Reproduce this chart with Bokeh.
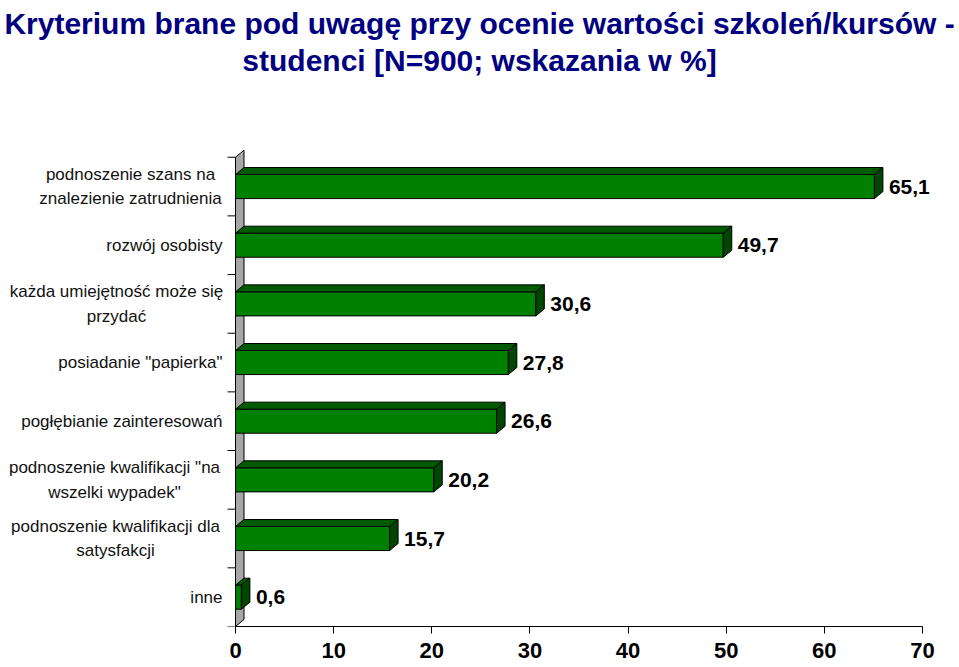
from bokeh.plotting import figure
from bokeh.models import Range1d, FixedTicker, Label, LabelSet, ColumnDataSource
from bokeh.core.properties import value
from bokeh.embed import file_html
from bokeh.resources import INLINE

# ---- data ----
categories = [
    "podnoszenie szans na\nznalezienie zatrudnienia",
    "rozwój osobisty",
    "każda umiejętność może się\nprzydać",
    "posiadanie \"papierka\"",
    "pogłębianie zainteresowań",
    "podnoszenie kwalifikacji \"na\nwszelki wypadek\"",
    "podnoszenie kwalifikacji dla\nsatysfakcji",
    "inne",
]
values = [65.1, 49.7, 30.6, 27.8, 26.6, 20.2, 15.7, 0.6]
x_ticks = [0, 10, 20, 30, 40, 50, 60, 70]
title_lines = [
    "Kryterium brane pod uwagę przy ocenie wartości szkoleń/kursów -",
    "studenci [N=900; wskazania w %]",
]

# ---- layout / style ----
W, H = 959, 667
BB = 41                          # space below the frame for the x axis
X0_PX = 235.0                    # pixel position of x = 0
AXIS_PX = 687.0                  # pixel length of the 0..70 axis
X_MAX = x_ticks[-1]
px_x = AXIS_PX / X_MAX
FH = H - BB
n = len(categories)
ppu_y = 58.66                    # pixel height of one category band
y_end = -0.5 + FH / ppu_y
DX_PX, DY_PX = 8.5, 7.0
dx = DX_PX / px_x
dy = DY_PX / ppu_y
half = 0.205
TICK_PX = 8

FRONT = "#008000"
TOP = "#005a00"
SIDE = "#004600"
WALL = "#a6a6a6"
FONT = "Liberation Sans"

cat_offsets = [-105, -13, -119, -13, -13, -121, -120, -13]
cat_align = ["center", "right", "center", "right", "right", "center", "center", "right"]

ys = [n - 1 - i for i in range(n)]
bounds = [k - 0.5 for k in range(n + 1)]
value_labels = [("%.1f" % v).replace(".", ",") for v in values]

p = figure(width=W, height=H,
           x_range=Range1d(-X0_PX / px_x, (W - X0_PX) / px_x),
           y_range=Range1d(-0.5, y_end),
           output_backend="svg", toolbar_location=None,
           min_border_left=0, min_border_right=0, min_border_top=0, min_border_bottom=BB)
p.title.visible = False
p.outline_line_color = None
p.grid.visible = False
p.yaxis.visible = False
p.background_fill_color = "white"
p.border_fill_color = "white"

# side wall (its front edge is the category axis line)
p.patch(x=[0, dx, dx, 0], y=[-0.5, -0.5 + dy, n - 0.5 + dy, n - 0.5],
        fill_color=WALL, line_color="black", line_width=1)
# category boundary tick marks
p.segment(x0=[0] * len(bounds), x1=[-TICK_PX / px_x] * len(bounds), y0=bounds, y1=bounds,
          line_color="black", line_width=1)

src = ColumnDataSource(dict(
    y=ys, v=values, lab=value_labels,
    bottom=[y - half for y in ys], top=[y + half for y in ys],
    xs_top=[[0, v, v + dx, dx] for v in values],
    ys_top=[[y + half, y + half, y + half + dy, y + half + dy] for y in ys],
    xs_side=[[v, v + dx, v + dx, v] for v in values],
    ys_side=[[y - half, y - half + dy, y + half + dy, y + half] for y in ys],
))

p.quad(left=0, right="v", bottom="bottom", top="top", source=src,
       fill_color=FRONT, line_color="black", line_width=1)
p.patches(xs="xs_top", ys="ys_top", source=src, fill_color=TOP, line_color="black", line_width=1)
p.patches(xs="xs_side", ys="ys_side", source=src, fill_color=SIDE, line_color="black", line_width=1)

p.add_layout(LabelSet(x="v", y="y", text="lab", source=src, x_offset=DX_PX + 6,
                      text_baseline="middle", text_align="left",
                      text_font=value(FONT), text_font_size="21px",
                      text_font_style="bold", text_color="black"))

# category labels
for i, c in enumerate(categories):
    p.add_layout(Label(x=0, y=ys[i], x_offset=cat_offsets[i], text=c,
                       text_align=cat_align[i], text_baseline="middle",
                       text_font=FONT, text_font_size="17px", text_color="#111111",
                       text_line_height=1.3))

# titles
title_cx = (479 - X0_PX) / px_x
for k, t in enumerate(title_lines):
    mid_px = [23, 60][k]
    p.add_layout(Label(x=title_cx, y=y_end - mid_px / ppu_y, text=t,
                       text_align="center", text_baseline="middle",
                       text_font=FONT, text_font_size="30px", text_font_style="bold",
                       text_color="#000080"))

# value axis
p.xaxis.ticker = FixedTicker(ticks=x_ticks)
p.xaxis.bounds = (0, X_MAX)
p.xaxis.major_tick_out = 7
p.xaxis.major_tick_in = 0
p.xaxis.minor_tick_line_color = None
p.xaxis.axis_line_color = "black"
p.xaxis.major_tick_line_color = "black"
p.xaxis.major_label_text_font = FONT
p.xaxis.major_label_text_font_size = "22px"
p.xaxis.major_label_text_font_style = "bold"
p.xaxis.major_label_text_color = "black"
p.xaxis.major_label_standoff = 9

open("out.html", "w").write(file_html(p, INLINE))
